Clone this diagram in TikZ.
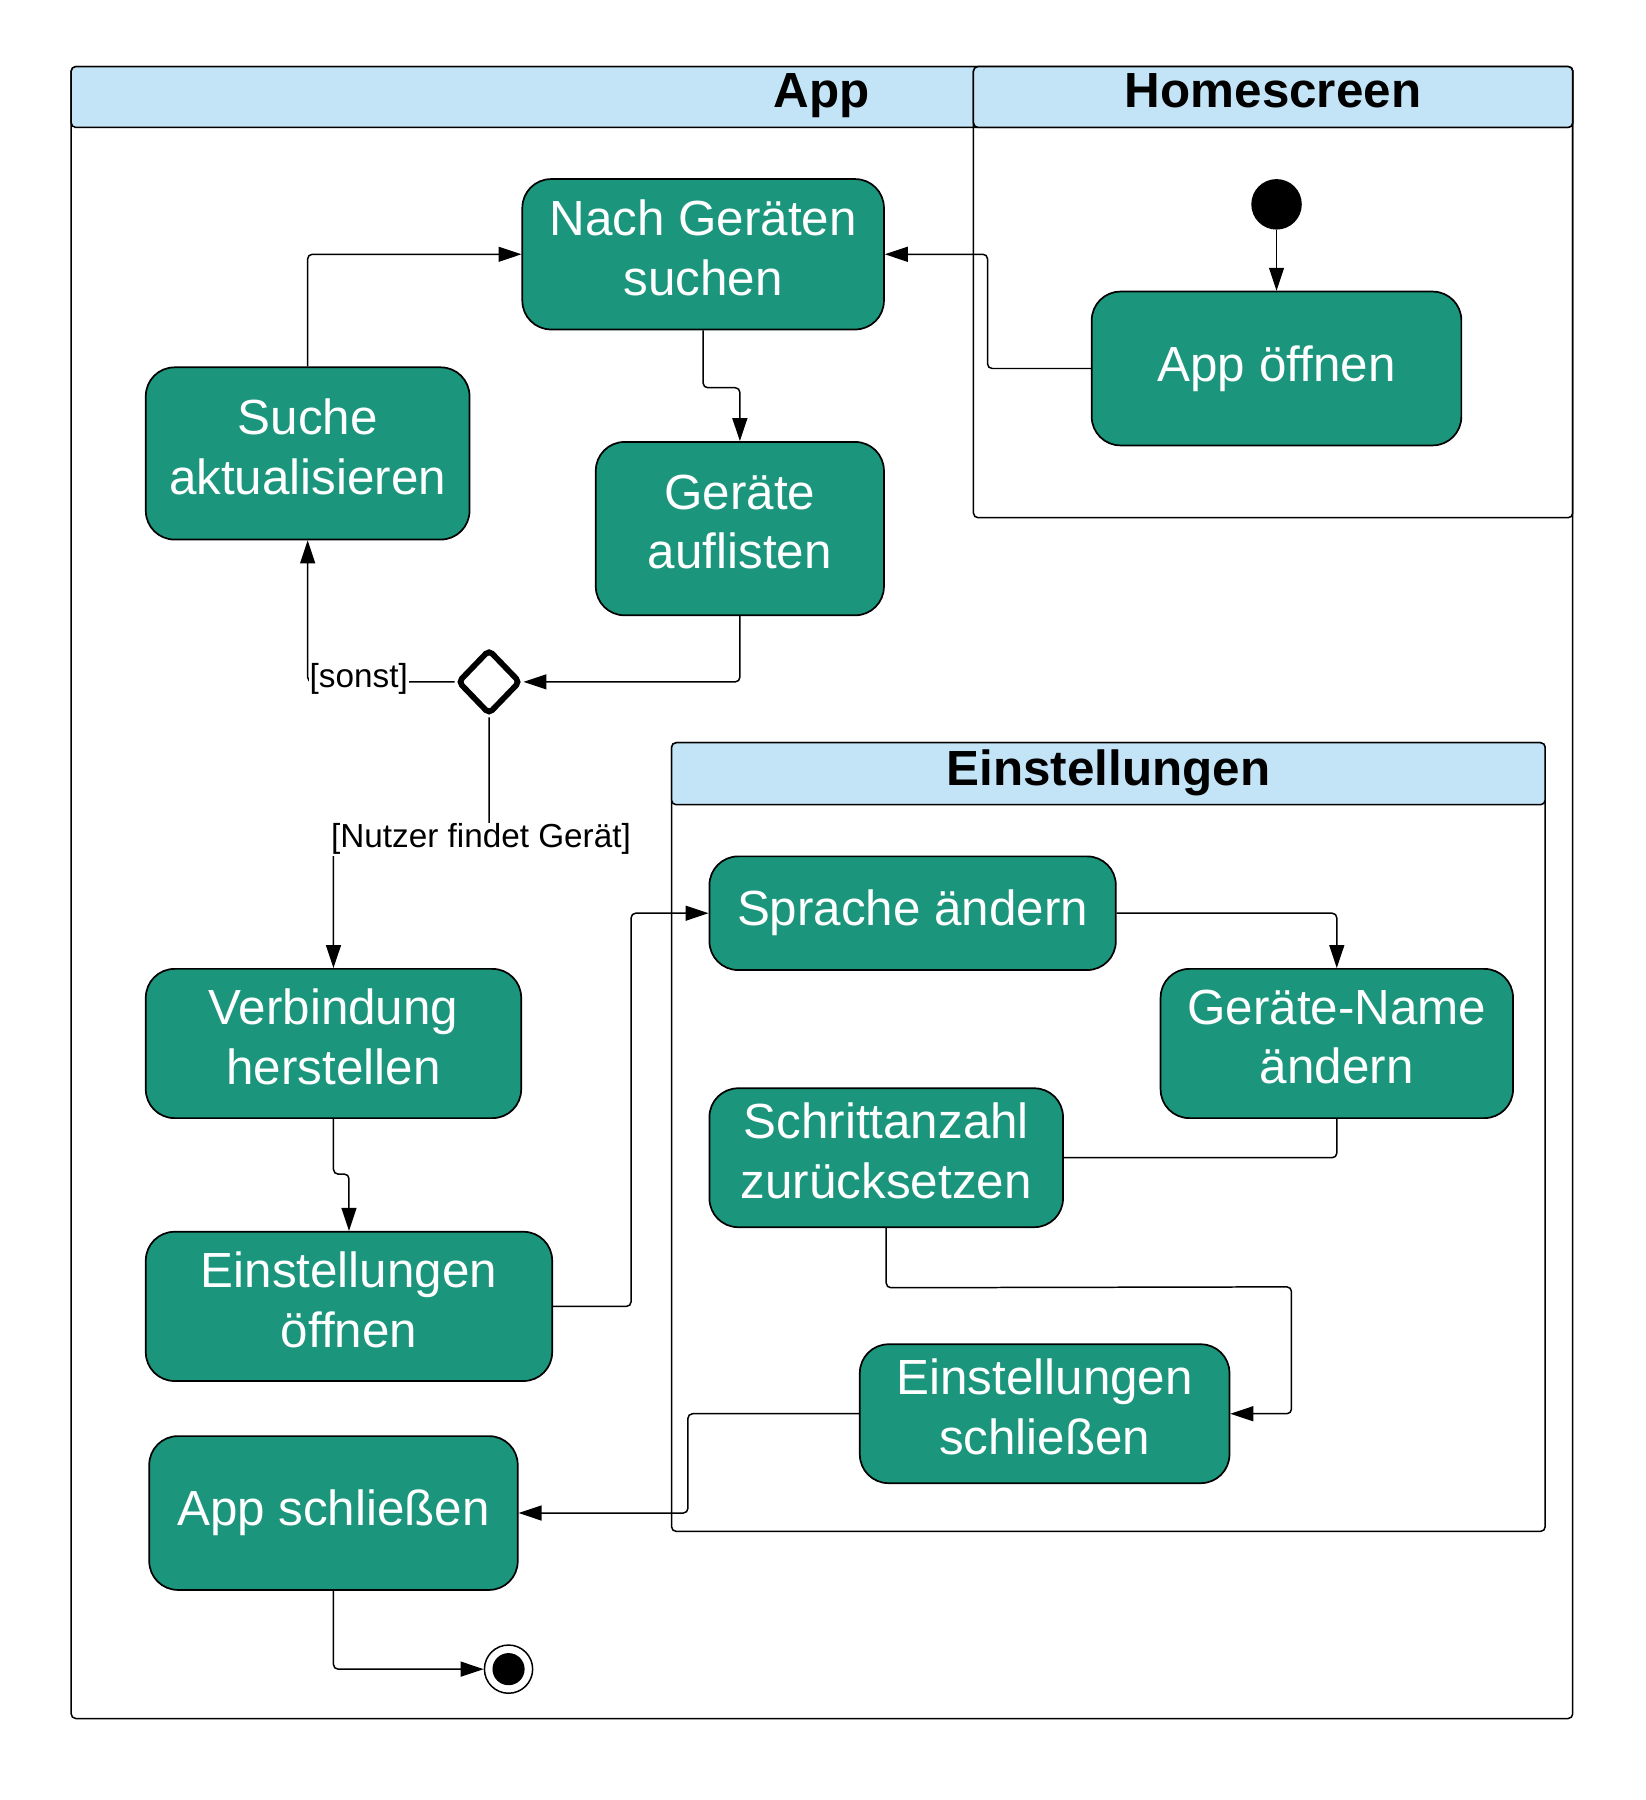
\documentclass[tikz,border=0pt]{standalone}
\usepackage{fontspec}
\setmainfont{Liberation Sans}
\usetikzlibrary{arrows.meta,shapes.geometric}
\definecolor{actgreen}{HTML}{1B967D}
\definecolor{hdrblue}{HTML}{C2E4F6}
\newcommand{\lowstrut}{\rule[-12pt]{0pt}{12pt}}
\begin{document}
\begin{tikzpicture}[x=1pt,y=-1pt,
  act/.style={draw=black, line width=1.5pt, fill=actgreen, rounded corners=25pt, text=white, align=center, font=\fontsize{43}{52}\selectfont, inner sep=0pt},
  arr/.style={line width=1.3pt, rounded corners=4pt, -{Triangle[length=20pt,width=13pt]}},
  ln/.style={line width=1.3pt, rounded corners=4pt},
  frame/.style={draw=black, line width=1.3pt, rounded corners=4pt},
  hdr/.style={draw=black, line width=1.3pt, fill=hdrblue, rounded corners=4pt},
  ttl/.style={font=\fontsize{43}{50}\selectfont\bfseries, anchor=base, inner sep=0pt},
  lbl/.style={font=\fontsize{29}{35}\selectfont, fill=white, inner sep=1pt},
]
\useasboundingbox[fill=white] (0,0) rectangle (1433,1568);
% frames
\draw[frame] (62,58) rectangle (1370,1497);
\draw[hdr] (62,58) rectangle (1370,111);
\draw[frame] (848,58) rectangle (1370,451);
\draw[hdr] (848,58) rectangle (1370,111);
\node[ttl] (tapp) at (716,94) {App};
\node[ttl] (thome) at (1109,94) {Homescreen};
\draw[frame] (585,647) rectangle (1346,1334);
\draw[hdr] (585,647) rectangle (1346,701);
\node[ttl] (teinst) at (965.5,684) {Einstellungen};
% nodes
\node[circle, fill=black, minimum size=44pt, inner sep=0pt] (start) at (1112,178) {};
\node[act, minimum width=322, minimum height=134] (appo) at (1112,321) {App öffnen};
\node[act, minimum width=315, minimum height=131] (nach) at (612.5,221.5) {Nach Geräten\\suchen\lowstrut};
\node[act, minimum width=282, minimum height=150] (suche) at (268,395) {Suche\\aktualisieren\lowstrut};
\node[act, minimum width=251, minimum height=151] (aufl) at (644.5,460.5) {Geräte\\auflisten\lowstrut};
\node[diamond, draw=black, fill=white, line width=5pt, minimum width=55pt, minimum height=57pt, inner sep=0pt, rounded corners=4pt] (dec) at (426,594) {};
\node[act, minimum width=327, minimum height=130] (verb) at (290.5,909) {Verbindung\\herstellen\lowstrut};
\node[act, minimum width=354, minimum height=130] (eoff) at (304,1138) {Einstellungen\\öffnen\lowstrut};
\node[act, minimum width=321, minimum height=134] (appsch) at (290.5,1318) {App schließen};
\node[act, minimum width=354, minimum height=99] (spr) at (795,795.5) {Sprache ändern};
\node[act, minimum width=307, minimum height=130] (gname) at (1164.5,909) {Geräte-Name\\ändern\lowstrut};
\node[act, minimum width=308, minimum height=121] (schritt) at (772,1008.5) {Schrittanzahl\\zurücksetzen\lowstrut};
\node[act, minimum width=322, minimum height=121] (eschl) at (910,1231.5) {Einstellungen\\schließen\lowstrut};
\node[circle, draw=black, line width=1.3pt, fill=white, minimum size=42pt, inner sep=0pt] (end) at (443,1454) {};
\node[circle, fill=black, minimum size=28pt, inner sep=0pt] (endin) at (end.center) {};
% connectors
\draw[arr] (start.south) -- (appo.north);
\draw[arr] (appo.west) -- ++(-90,0) |- (nach.east);
\draw[arr] (nach.south) -- ++(0,50) -| (aufl.north);
\draw[arr] (aufl.south) |- (dec.east);
\draw[arr] (dec.west) -| (suche.south);
\draw[arr] (suche.north) |- (nach.west);
\draw[arr] (dec.south) -- (426,730) -| (verb.north);
\draw[arr] (verb.south) -- ++(0,48) -| (eoff.north);
\draw[arr] (eoff.east) -- ++(68,0) |- (spr.west);
\draw[arr] (spr.east) -| (gname.north);
\draw[ln] (gname.south) |- (schritt.east);
\draw[arr] (schritt.south) -- ++(0,52) -- (1125,1121) |- (eschl.east);
\draw[arr] (eschl.west) -- ++(-149,0) |- (appsch.east);
\draw[arr] (appsch.south) |- (end.west);
% labels
\node[lbl] (lsonst) at (312.5,591) {[sonst]};
\node[lbl] (lnutzer) at (419,731) {[Nutzer findet Gerät]};
\end{tikzpicture}
\end{document}
